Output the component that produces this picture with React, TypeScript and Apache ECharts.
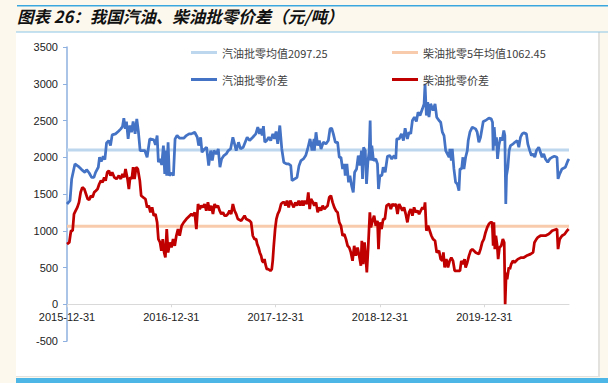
import React, { useEffect, useRef } from 'react';
import * as echarts from 'echarts';

const titleText = '图表 26：我国汽油、柴油批零价差（元/吨）';
const xTickLabels = ['2015-12-31', '2016-12-31', '2017-12-31', '2018-12-31', '2019-12-31'];
const X_START = 2016;
const X_END = 2020.812;
const Y_MIN = -500;
const Y_MAX = 3500;
const Y_STEP = 500;

const GAS_AVG = 2097.25;
const DIESEL_AVG = 1062.45;
const nameGasAvg = '汽油批零均值2097.25';
const nameDieselAvg = '柴油批零5年均值1062.45';
const nameGas = '汽油批零价差';
const nameDiesel = '柴油批零价差';

// time in decimal years (2016.0 = 2015-12-31)
const gasT = [
  2016.000, 2016.029, 2016.045, 2016.076, 2016.108, 2016.140, 2016.172, 2016.188, 2016.213, 2016.236,
  2016.258, 2016.274, 2016.300, 2016.312, 2016.328, 2016.347, 2016.363, 2016.379, 2016.400, 2016.417,
  2016.433, 2016.465, 2016.491, 2016.516, 2016.532, 2016.545, 2016.558, 2016.570, 2016.586, 2016.602,
  2016.618, 2016.634, 2016.653, 2016.669, 2016.685, 2016.701, 2016.746, 2016.768, 2016.793, 2016.832,
  2016.848, 2016.864, 2016.876, 2016.892, 2016.908, 2016.924, 2016.937, 2016.946, 2016.956, 2016.969,
  2016.981, 2017.004, 2017.020, 2017.036, 2017.055, 2017.080, 2017.119, 2017.144, 2017.170, 2017.192,
  2017.224, 2017.249, 2017.262, 2017.281, 2017.294, 2017.319, 2017.338, 2017.358, 2017.377, 2017.393,
  2017.409, 2017.431, 2017.450, 2017.466, 2017.482, 2017.504, 2017.526, 2017.546, 2017.568, 2017.590,
  2017.606, 2017.622, 2017.644, 2017.663, 2017.689, 2017.708, 2017.727, 2017.750, 2017.781, 2017.810,
  2017.829, 2017.845, 2017.858, 2017.871, 2017.883, 2017.896, 2017.915, 2017.934, 2017.953, 2017.973,
  2017.989, 2018.004, 2018.020, 2018.040, 2018.059, 2018.078, 2018.103, 2018.126, 2018.145, 2018.157,
  2018.183, 2018.205, 2018.224, 2018.243, 2018.266, 2018.288, 2018.307, 2018.330, 2018.349, 2018.368,
  2018.371, 2018.387, 2018.403, 2018.419, 2018.435, 2018.457, 2018.482, 2018.505, 2018.521, 2018.537,
  2018.553, 2018.572, 2018.594, 2018.610, 2018.626, 2018.642, 2018.658, 2018.667, 2018.683, 2018.699,
  2018.712, 2018.728, 2018.744, 2018.757, 2018.776, 2018.792, 2018.808, 2018.823, 2018.833, 2018.843,
  2018.859, 2018.871, 2018.884, 2018.897, 2018.906, 2018.913, 2018.922, 2018.938, 2018.960, 2018.976,
  2018.986, 2018.999, 2019.018, 2019.031, 2019.050, 2019.072, 2019.094, 2019.113, 2019.136, 2019.152,
  2019.161, 2019.184, 2019.206, 2019.225, 2019.241, 2019.263, 2019.279, 2019.295, 2019.311, 2019.330,
  2019.349, 2019.365, 2019.384, 2019.407, 2019.423, 2019.432, 2019.445, 2019.458, 2019.470, 2019.486,
  2019.509, 2019.528, 2019.544, 2019.566, 2019.582, 2019.598, 2019.614, 2019.630, 2019.646, 2019.662,
  2019.671, 2019.684, 2019.693, 2019.709, 2019.725, 2019.741, 2019.757, 2019.767, 2019.783, 2019.795,
  2019.805, 2019.821, 2019.837, 2019.846, 2019.862, 2019.885, 2019.917, 2019.932, 2019.948, 2019.964,
  2019.990, 2020.012, 2020.044, 2020.066, 2020.079, 2020.085, 2020.095, 2020.108, 2020.117, 2020.127,
  2020.140, 2020.156, 2020.171, 2020.187, 2020.197, 2020.206, 2020.213, 2020.226, 2020.238, 2020.251,
  2020.277, 2020.293, 2020.315, 2020.331, 2020.347, 2020.363, 2020.378, 2020.404, 2020.417, 2020.436,
  2020.452, 2020.468, 2020.484, 2020.500, 2020.522, 2020.538, 2020.554, 2020.570, 2020.586, 2020.608,
  2020.627, 2020.650, 2020.672, 2020.697, 2020.707, 2020.723, 2020.745, 2020.777, 2020.802, 2020.812,
];
const gasV = [
  1364, 1409, 1705, 1909, 1877, 1832, 1795, 1832, 1786, 1727,
  1727, 1795, 1864, 2000, 1941, 2013, 1968, 2195, 2227, 2159,
  2304, 2318, 2350, 2386, 2418, 2532, 2386, 2486, 2250, 2432,
  2340, 2486, 2318, 2522, 2340, 2091, 2091, 2000, 2250, 2236,
  2168, 2295, 1932, 1977, 1895, 2159, 1773, 2091, 1750, 2204,
  1750, 1786, 1750, 2250, 2295, 2259, 2259, 2295, 2318, 2318,
  2340, 2272, 2159, 2272, 2068, 2113, 2136, 1886, 2091, 1955,
  2091, 2045, 2113, 1864, 1977, 2023, 2045, 2091, 2113, 2272,
  2182, 2091, 2204, 2113, 2136, 2204, 2272, 2227, 2272, 2318,
  2409, 2318, 2386, 2295, 2422, 2204, 2227, 2272, 2227, 2318,
  2250, 2350, 2182, 2432, 2113, 1932, 1909, 1909, 1886, 1682,
  1705, 1727, 1886, 1955, 1977, 2023, 2113, 2250, 2091, 2250,
  2091, 2340, 2159, 2227, 2113, 2204, 2182, 2227, 2386, 2395,
  2318, 2204, 2204, 2000, 2000, 1841, 1909, 1750, 1909, 1659,
  1750, 1614, 1523, 1795, 1841, 2023, 1886, 2091, 1705, 2136,
  2091, 1636, 1932, 2091, 2500, 1955, 2159, 1955, 1977, 1909,
  1568, 1750, 1750, 1864, 1795, 2013, 2023, 1977, 2023, 1977,
  2250, 2250, 2318, 2227, 2395, 2250, 2340, 2318, 2500, 2545,
  2486, 2613, 2568, 2659, 2727, 3000, 2568, 2750, 2545, 2727,
  2636, 2727, 2545, 2500, 2477, 2341, 2295, 2091, 2045, 2000,
  2113, 1955, 2113, 1841, 1659, 1636, 1545, 1841, 1841, 2000,
  1841, 2000, 2091, 2227, 2341, 2409, 2386, 2341, 2204, 2272,
  2486, 2500, 2532, 2522, 2477, 2091, 2409, 2159, 2272, 1977,
  2159, 2272, 2227, 2363, 2295, 1364, 1750, 1864, 2091, 2159,
  2182, 2204, 2227, 2136, 2272, 2318, 2332, 2318, 2182, 2091,
  2023, 2045, 2000, 2091, 2136, 2068, 2000, 2045, 1977, 1932,
  1977, 2000, 2013, 2000, 1705, 1773, 1841, 1864, 1955, 1977,
];

const dieT = [
  2016.000, 2016.022, 2016.038, 2016.054, 2016.067, 2016.083, 2016.099, 2016.115, 2016.131, 2016.147,
  2016.166, 2016.182, 2016.198, 2016.214, 2016.229, 2016.245, 2016.261, 2016.277, 2016.293, 2016.309,
  2016.325, 2016.341, 2016.357, 2016.370, 2016.386, 2016.402, 2016.417, 2016.433, 2016.453, 2016.475,
  2016.497, 2016.516, 2016.532, 2016.548, 2016.561, 2016.580, 2016.593, 2016.605, 2016.621, 2016.634,
  2016.647, 2016.663, 2016.679, 2016.698, 2016.711, 2016.730, 2016.752, 2016.768, 2016.784, 2016.800,
  2016.816, 2016.832, 2016.848, 2016.864, 2016.876, 2016.892, 2016.905, 2016.918, 2016.931, 2016.943,
  2016.956, 2016.969, 2016.985, 2017.001, 2017.017, 2017.033, 2017.048, 2017.064, 2017.080, 2017.099,
  2017.119, 2017.144, 2017.176, 2017.192, 2017.208, 2017.224, 2017.240, 2017.256, 2017.272, 2017.288,
  2017.303, 2017.319, 2017.335, 2017.351, 2017.367, 2017.383, 2017.399, 2017.415, 2017.431, 2017.447,
  2017.463, 2017.479, 2017.495, 2017.510, 2017.526, 2017.542, 2017.558, 2017.574, 2017.590, 2017.606,
  2017.622, 2017.638, 2017.670, 2017.702, 2017.718, 2017.750, 2017.765, 2017.781, 2017.797, 2017.813,
  2017.823, 2017.836, 2017.848, 2017.861, 2017.871, 2017.883, 2017.893, 2017.902, 2017.915, 2017.931,
  2017.950, 2017.963, 2017.972, 2017.982, 2017.995, 2018.007, 2018.020, 2018.036, 2018.052, 2018.068,
  2018.084, 2018.093, 2018.109, 2018.125, 2018.141, 2018.157, 2018.173, 2018.189, 2018.205, 2018.221,
  2018.237, 2018.253, 2018.266, 2018.281, 2018.300, 2018.313, 2018.326, 2018.339, 2018.358, 2018.371,
  2018.387, 2018.403, 2018.419, 2018.435, 2018.451, 2018.467, 2018.482, 2018.498, 2018.514, 2018.530,
  2018.546, 2018.562, 2018.578, 2018.594, 2018.610, 2018.626, 2018.642, 2018.658, 2018.674, 2018.690,
  2018.705, 2018.721, 2018.737, 2018.753, 2018.769, 2018.785, 2018.801, 2018.817, 2018.826, 2018.839,
  2018.852, 2018.865, 2018.874, 2018.887, 2018.903, 2018.913, 2018.929, 2018.944, 2018.960, 2018.976,
  2018.986, 2018.999, 2019.015, 2019.031, 2019.047, 2019.063, 2019.088, 2019.104, 2019.120, 2019.136,
  2019.152, 2019.168, 2019.184, 2019.200, 2019.215, 2019.231, 2019.247, 2019.263, 2019.279, 2019.295,
  2019.311, 2019.327, 2019.343, 2019.359, 2019.375, 2019.391, 2019.407, 2019.423, 2019.432, 2019.445,
  2019.461, 2019.477, 2019.493, 2019.509, 2019.528, 2019.544, 2019.566, 2019.582, 2019.598, 2019.608,
  2019.620, 2019.636, 2019.652, 2019.668, 2019.684, 2019.700, 2019.716, 2019.741, 2019.767, 2019.780,
  2019.795, 2019.811, 2019.821, 2019.837, 2019.853, 2019.869, 2019.885, 2019.901, 2019.917, 2019.948,
  2019.964, 2019.980, 2019.996, 2020.012, 2020.028, 2020.044, 2020.060, 2020.076, 2020.085, 2020.092,
  2020.101, 2020.111, 2020.124, 2020.133, 2020.146, 2020.162, 2020.178, 2020.191, 2020.200, 2020.210,
  2020.219, 2020.235, 2020.245, 2020.258, 2020.274, 2020.290, 2020.306, 2020.322, 2020.354, 2020.379,
  2020.404, 2020.443, 2020.468, 2020.481, 2020.500, 2020.513, 2020.538, 2020.586, 2020.618, 2020.634,
  2020.650, 2020.697, 2020.707, 2020.723, 2020.745, 2020.771, 2020.793, 2020.809,
];
const dieV = [
  818, 841, 1000, 1000, 1227, 1273, 1318, 1386, 1523, 1591,
  1568, 1500, 1432, 1423, 1477, 1455, 1523, 1545, 1568, 1636,
  1682, 1659, 1727, 1682, 1795, 1818, 1750, 1795, 1727, 1705,
  1750, 1705, 1773, 1727, 1841, 1705, 1568, 1727, 1705, 1864,
  1705, 1864, 1841, 1682, 1477, 1455, 1432, 1318, 1341, 1250,
  1318, 1205, 1227, 1114, 886, 841, 727, 886, 705, 636,
  1023, 705, 841, 773, 886, 795, 932, 1023, 932, 1068,
  1114, 1159, 1205, 1227, 1205, 1250, 1023, 1364, 1295, 1341,
  1318, 1364, 1273, 1386, 1273, 1341, 1227, 1364, 1318, 1341,
  1273, 1227, 1250, 1205, 1205, 1227, 1273, 1227, 1364, 1273,
  1227, 1159, 1136, 1205, 1159, 1136, 1114, 932, 886, 886,
  818, 773, 705, 659, 591, 568, 614, 545, 477, 477,
  455, 477, 591, 795, 1023, 1159, 1227, 1273, 1364, 1386,
  1386, 1341, 1409, 1318, 1409, 1364, 1318, 1386, 1341, 1409,
  1341, 1409, 1341, 1409, 1364, 1523, 1295, 1432, 1386, 1341,
  1386, 1250, 1318, 1273, 1341, 1295, 1318, 1341, 1455, 1477,
  1386, 1318, 1273, 1250, 1114, 1068, 932, 955, 886, 795,
  773, 705, 591, 795, 659, 773, 659, 523, 864, 545,
  841, 614, 432, 773, 1250, 1045, 1136, 1205, 1068, 1136,
  750, 1114, 1023, 1159, 1159, 1341, 1364, 1295, 1364, 1341,
  1364, 1227, 1364, 1318, 1273, 1318, 1227, 1114, 1250, 1295,
  1205, 1318, 1250, 1273, 1227, 1273, 1318, 1295, 1386, 1000,
  1068, 1000, 932, 886, 864, 705, 727, 614, 591, 705,
  500, 614, 500, 591, 636, 591, 455, 455, 455, 591,
  545, 614, 500, 568, 659, 727, 750, 727, 705, 682,
  750, 841, 886, 977, 1045, 1091, 1114, 1114, 795, 1114,
  750, 932, 795, 614, 773, 795, 886, 841, 0, 432,
  341, 500, 477, 545, 591, 568, 591, 614, 636, 636,
  659, 682, 705, 841, 886, 909, 932, 932, 955, 977,
  1000, 1023, 750, 886, 932, 955, 1000, 1023,
];

const CJK = '"Noto Sans CJK SC", "Noto Sans", sans-serif';
const LATIN = '"Liberation Sans", Arial, sans-serif';

function pairs(t: number[], v: number[]) {
  return t.map((x, i) => [x, v[i]]);
}

function legendFor(name: string, left: number, top: number) {
  return {
    data: [name],
    left,
    top,
    padding: 0,
    icon: 'rect',
    itemWidth: 26,
    itemHeight: 3,
    selectedMode: false,
    textStyle: { fontSize: 11, color: '#404040', fontFamily: CJK },
  };
}

const GRID_TOP = 47;
const GRID_BOTTOM = 42;
const CHART_H = 383;

export default function App() {
  const ref = useRef<HTMLDivElement>(null);
  useEffect(() => {
    const chart = echarts.init(ref.current!, null, { renderer: 'svg' });
    const plotH = CHART_H - GRID_TOP - GRID_BOTTOM;
    const zeroOffset = -plotH * (0 - Y_MIN) / (Y_MAX - Y_MIN);
    const option: any = {
      animation: false,
      backgroundColor: '#FCF8EE',
      title: {
        text: titleText,
        left: 17,
        top: 8,
        padding: 0,
        textStyle: {
          fontSize: 16.5,
          fontWeight: 'bold',
          fontStyle: 'italic',
          color: '#111',
          fontFamily: CJK,
        },
      },
      graphic: [
        { type: 'rect', z: -10, shape: { x: 17, y: 5, width: 591, height: 1.5 }, style: { fill: '#3AA8DE' }, silent: true },
        { type: 'rect', z: -10, shape: { x: 16, y: 32, width: 584, height: 345 }, style: { fill: '#E4E2DE' }, silent: true },
        { type: 'rect', z: -10, shape: { x: 16, y: 32, width: 582, height: 344 }, style: { fill: '#FFFFFF' }, silent: true },
        { type: 'rect', z: -10, shape: { x: 16, y: 31.5, width: 592, height: 1 }, style: { fill: '#8CC6E6' }, silent: true },
        { type: 'rect', z: -10, shape: { x: 16, y: 378, width: 592, height: 5 }, style: { fill: '#4DB6E6' }, silent: true },
      ],
      legend: [
        legendFor(nameGasAvg, 191, 47),
        legendFor(nameDieselAvg, 392, 47),
        legendFor(nameGas, 191, 74),
        legendFor(nameDiesel, 392, 74),
      ],
      grid: { left: 67, right: 39, top: GRID_TOP, bottom: GRID_BOTTOM, containLabel: false },
      xAxis: {
        type: 'value',
        position: 'bottom',
        offset: zeroOffset,
        min: X_START,
        max: X_END,
        interval: 1,
        axisLine: { onZero: false, lineStyle: { color: '#D9D9D9', width: 1 } },
        axisTick: { show: true, length: 3, lineStyle: { color: '#D9D9D9' } },
        splitLine: { show: false },
        axisLabel: {
          fontSize: 11,
          color: '#222',
          fontFamily: LATIN,
          margin: 7,
          showMaxLabel: false,
          formatter: (v: number) => {
            const i = Math.round(v - X_START);
            if (Math.abs(v - X_START - i) > 0.001) return '';
            return xTickLabels[i] ?? '';
          },
        },
      },
      yAxis: {
        type: 'value',
        min: Y_MIN,
        max: Y_MAX,
        interval: Y_STEP,
        axisLine: { show: true, onZero: false, lineStyle: { color: '#8EB0E0', width: 1.5 } },
        axisTick: { show: true, length: 4, lineStyle: { color: '#8EB0E0' } },
        splitLine: { show: false },
        axisLabel: {
          fontSize: 11,
          color: '#222',
          fontFamily: LATIN,
          margin: 9,
          formatter: (v: number) => String(v),
        },
      },
      series: [
        {
          name: nameGasAvg,
          type: 'line',
          data: [[X_START, GAS_AVG], [X_END, GAS_AVG]],
          symbol: 'none',
          itemStyle: { color: '#BDD7EE' },
          lineStyle: { color: '#BDD7EE', width: 3 },
          z: 1,
        },
        {
          name: nameDieselAvg,
          type: 'line',
          data: [[X_START, DIESEL_AVG], [X_END, DIESEL_AVG]],
          symbol: 'none',
          itemStyle: { color: '#F8CBAD' },
          lineStyle: { color: '#F8CBAD', width: 3 },
          z: 1,
        },
        {
          name: nameGas,
          type: 'line',
          data: pairs(gasT, gasV),
          symbol: 'none',
          itemStyle: { color: '#4472C4' },
          lineStyle: { color: '#4472C4', width: 2.75 },
          z: 3,
        },
        {
          name: nameDiesel,
          type: 'line',
          data: pairs(dieT, dieV),
          symbol: 'none',
          itemStyle: { color: '#C00000' },
          lineStyle: { color: '#C00000', width: 2.75 },
          z: 3,
        },
      ],
    };
    chart.setOption(option);
    return () => chart.dispose();
  }, []);
  return (
    <div
      ref={ref}
      style={{ position: 'absolute', left: 0, top: 0, width: 608, height: 383 }}
    />
  );
}
